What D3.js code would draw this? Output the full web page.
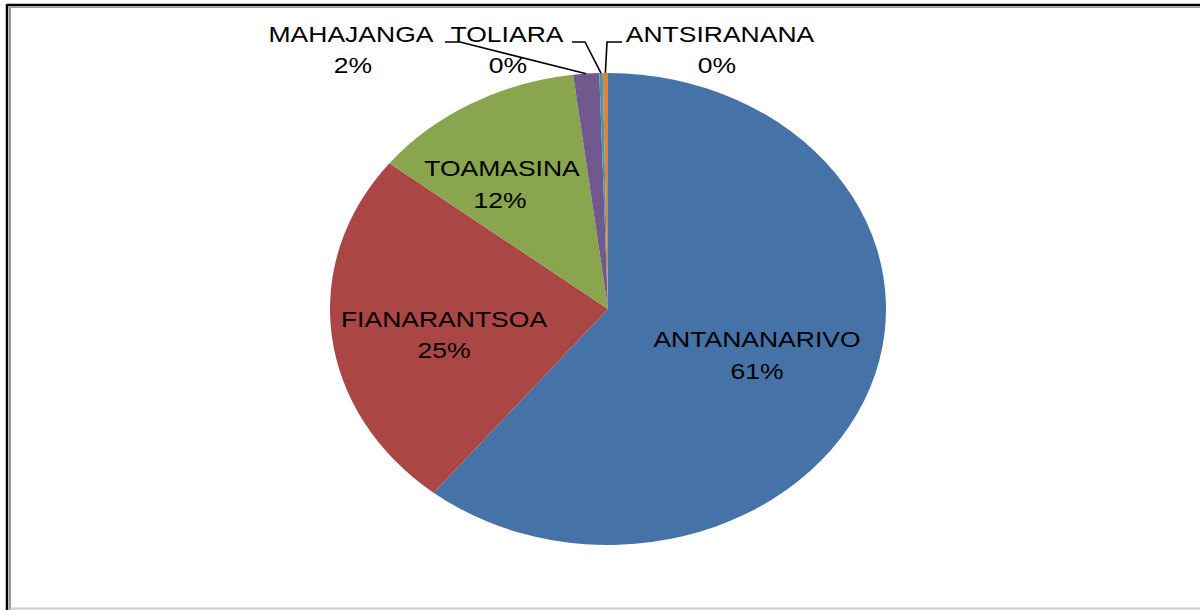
<!DOCTYPE html>
<html>
<head>
<meta charset="utf-8">
<script src="https://cdn.jsdelivr.net/npm/d3@7"></script>
<style>
  html, body { margin: 0; padding: 0; background: #fff; }
  svg { display: block; }
  text { font-family: "Liberation Sans", Arial, sans-serif; fill: #000; }
</style>
</head>
<body>
<svg id="chart" width="1200" height="610"></svg>
<script>
// ---- data ----
const categories = ["ANTANANARIVO", "FIANARANTSOA", "TOAMASINA", "MAHAJANGA", "TOLIARA", "ANTSIRANANA"];
const values = [60.8, 24.8, 12.4, 1.5, 0.2, 0.3];
const colors = ["#4572A7", "#AA4643", "#89A54E", "#71588F", "#4198AF", "#DB843D"];

// ---- layout (label placement, not data) ----
const W = 1200, H = 610;
const cx = 608, cy = 309, ry = 236, stretch = 1.178;
const fontSize = 22.5;
const labelLayout = [
  { nx: 757, ny: 347, px: 757, py: 379 },
  { nx: 444, ny: 327, px: 444, py: 358 },
  { nx: 502, ny: 176, px: 500, py: 208 },
  { nx: 351, ny: 42, px: 353, py: 73, leader: [[445, 42], [460, 42]] },
  { nx: 507, ny: 42, px: 508, py: 73, leader: [[572, 42], [585, 42]] },
  { nx: 720, ny: 42, px: 717, py: 73, leader: [[622, 42], [607, 42]] }
];

const svg = d3.select("#chart");

// frame
svg.append("rect").attr("x", 0).attr("y", 0).attr("width", W).attr("height", H).attr("fill", "#fff");
svg.append("line").attr("x1", 7).attr("x2", W).attr("y1", 5).attr("y2", 5).attr("stroke", "#000").attr("stroke-width", 2.5);
svg.append("line").attr("x1", 7).attr("x2", 7).attr("y1", 4).attr("y2", H).attr("stroke", "#000").attr("stroke-width", 2.5);
svg.append("line").attr("x1", 10).attr("x2", W).attr("y1", 7.3).attr("y2", 7.3).attr("stroke", "#9a9a9a").attr("stroke-width", 1.5);
svg.append("line").attr("x1", 10).attr("x2", 10).attr("y1", 7).attr("y2", H).attr("stroke", "#9a9a9a").attr("stroke-width", 2);
svg.append("line").attr("x1", 10).attr("x2", W).attr("y1", 608.5).attr("y2", 608.5).attr("stroke", "#cccccc").attr("stroke-width", 2);

const data = categories.map((c, i) => ({ name: c, value: values[i], color: colors[i], i }));
const total = d3.sum(values);

const pie = d3.pie().value(d => d.value).sort(null).startAngle(0).endAngle(2 * Math.PI);
const arcs = pie(data);
const arc = d3.arc().innerRadius(0).outerRadius(ry);

const g = svg.append("g").attr("transform", `translate(${cx},${cy}) scale(${stretch},1)`);
g.selectAll("path").data(arcs).enter().append("path")
  .attr("d", arc)
  .attr("fill", d => d.data.color);

// leader lines
function edgePoint(a) {
  const m = (a.startAngle + a.endAngle) / 2;
  return [cx + ry * stretch * Math.sin(m), cy - ry * Math.cos(m)];
}
arcs.forEach((a, i) => {
  const L = labelLayout[i];
  if (!L.leader) return;
  const pts = L.leader.concat([edgePoint(a)]);
  svg.append("path")
    .attr("d", d3.line()(pts))
    .attr("fill", "none")
    .attr("stroke", "#000")
    .attr("stroke-width", 1.6);
});

// labels
const fmt = v => Math.round(v / total * 100) + "%";
arcs.forEach((a, i) => {
  const L = labelLayout[i];
  svg.append("text")
    .attr("transform", `translate(${L.nx},${L.ny}) scale(${stretch},1)`)
    .attr("text-anchor", "middle")
    .style("font-size", fontSize + "px")
    .text(a.data.name);
  svg.append("text")
    .attr("transform", `translate(${L.px},${L.py}) scale(${stretch},1)`)
    .attr("text-anchor", "middle")
    .style("font-size", fontSize + "px")
    .text(fmt(a.data.value));
});
</script>
</body>
</html>
